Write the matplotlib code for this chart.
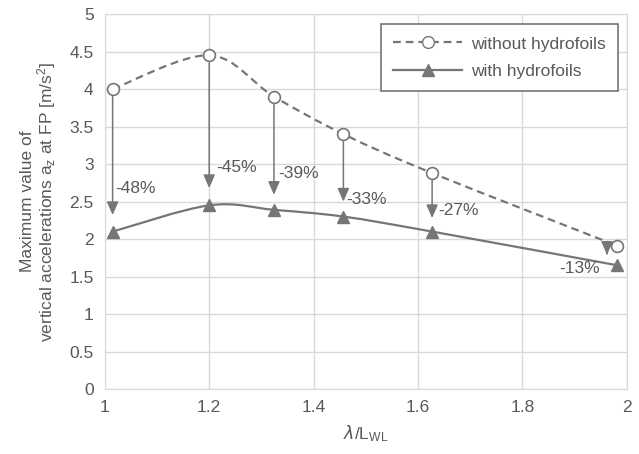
import matplotlib
matplotlib.use('Agg')
import matplotlib.pyplot as plt
from matplotlib.path import Path
from matplotlib.patches import PathPatch
from matplotlib import font_manager

# data
x_without = [1.015, 1.2, 1.324, 1.457, 1.627, 1.982]
y_without = [4.00, 4.45, 3.90, 3.40, 2.88, 1.91]
x_with = [1.015, 1.2, 1.324, 1.457, 1.627, 1.982]
y_with = [2.10, 2.45, 2.39, 2.30, 2.10, 1.65]
reductions = ['-48%', '-45%', '-39%', '-33%', '-27%', '-13%']
arrow_tip_y = [2.32, 2.68, 2.59, 2.50, 2.28, 1.79]
label_xy = [(1.02, 2.68), (1.213, 2.96), (1.333, 2.88), (1.463, 2.53), (1.638, 2.38), (1.91, 1.61)]

names = [f.name for f in font_manager.fontManager.ttflist]
fam = 'Liberation Sans Narrow' if 'Liberation Sans Narrow' in names else 'Liberation Sans'
plt.rcParams['font.family'] = [fam, 'DejaVu Sans']
plt.rcParams['mathtext.default'] = 'regular'

gray = '#767676'
txt = '#595959'


def smooth_path(xs, ys):
    # excel style smoothed line (cubic bezier through the points)
    pts = list(zip(xs, ys))
    verts = [pts[0]]
    codes = [Path.MOVETO]
    n = len(pts)
    for i in range(n - 1):
        p0 = pts[i - 1] if i > 0 else pts[i]
        p1 = pts[i]
        p2 = pts[i + 1]
        p3 = pts[i + 2] if i + 2 < n else pts[i + 1]
        c1 = (p1[0] + (p2[0] - p0[0]) / 6, p1[1] + (p2[1] - p0[1]) / 6)
        c2 = (p2[0] - (p3[0] - p1[0]) / 6, p2[1] - (p3[1] - p1[1]) / 6)
        verts += [c1, c2, p2]
        codes += [Path.CURVE4] * 3
    return Path(verts, codes)


fig = plt.figure(figsize=(6.39, 4.54), dpi=100)
ax = fig.add_axes([0.164, 0.143, 0.817, 0.826])

ax.add_patch(PathPatch(smooth_path(x_without, y_without), fill=False, edgecolor=gray,
                       lw=1.6, ls=(0, (3.5, 2.2)), zorder=3))
ax.add_patch(PathPatch(smooth_path(x_with, y_with), fill=False, edgecolor=gray,
                       lw=1.6, zorder=3))
ax.plot(x_without, y_without, 'o', ms=8.5, mfc='white', mec=gray, mew=1.2, zorder=5)
ax.plot(x_with, y_with, '^', ms=9, mfc=gray, mec=gray, zorder=5)

for i in range(len(x_without)):
    xa = x_without[i] - (0.02 if i == len(x_without) - 1 else 0)
    ax.annotate('', xy=(xa, arrow_tip_y[i]), xytext=(xa, y_without[i] - 0.1),
                arrowprops=dict(arrowstyle='-|>,head_length=0.8,head_width=0.35',
                                color=gray, lw=1.1, shrinkA=0, shrinkB=0), zorder=4)
    lx, ly = label_xy[i]
    ha = 'center' if i == len(x_without) - 1 else 'left'
    ax.text(lx, ly, reductions[i], fontsize=12.5, color=txt, ha=ha, va='center', zorder=6)

ax.set_xlim(1, 2)
ax.set_ylim(0, 5)
ax.set_xticks([1, 1.2, 1.4, 1.6, 1.8, 2])
ax.set_xticklabels(['1', '1.2', '1.4', '1.6', '1.8', '2'])
ax.set_yticks([0, 0.5, 1, 1.5, 2, 2.5, 3, 3.5, 4, 4.5, 5])
ax.set_yticklabels(['0', '0.5', '1', '1.5', '2', '2.5', '3', '3.5', '4', '4.5', '5'])
ax.grid(True, color='#d9d9d9', lw=1)
ax.set_axisbelow(True)
for s in ['top', 'right', 'left', 'bottom']:
    ax.spines[s].set_color('#d9d9d9')
ax.tick_params(length=0, labelsize=12.5, colors=txt, pad=8)

ax.set_xlabel('$\\mathit{\\lambda}$/L$_{WL}$', fontsize=12.5, color=txt, labelpad=6)
ax.set_ylabel('Maximum value of\nvertical accelerations a$_z$ at FP [m/s$^2$]',
              fontsize=12.5, color=txt, labelpad=8, linespacing=1.0)

h1, = ax.plot([], [], 'o', ls=(0, (3.5, 2.2)), color=gray, ms=8.5, mfc='white', mec=gray, lw=1.6)
h2, = ax.plot([], [], '^', ls='-', color=gray, ms=9, mfc=gray, mec=gray, lw=1.6)
leg = ax.legend([h1, h2], ['without hydrofoils', 'with hydrofoils'], loc='upper right',
                bbox_to_anchor=(0.983, 0.973), fontsize=12.5, fancybox=False, framealpha=1,
                edgecolor=gray, handlelength=4.0, borderpad=0.7, labelspacing=0.7,
                handletextpad=0.5, borderaxespad=0)
leg.get_frame().set_linewidth(1.2)
for t in leg.get_texts():
    t.set_color(txt)

fig.savefig('out.png', dpi=100)
